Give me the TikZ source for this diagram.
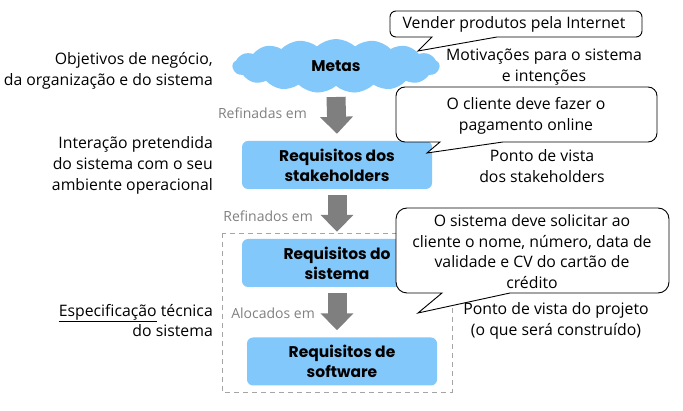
\documentclass[tikz,border=0pt]{standalone}
\usepackage{fontspec}
\setmainfont{Open Sans}
\newfontfamily\boxfont{Poppins}
\usetikzlibrary{shapes.symbols,arrows.meta}
\definecolor{boxblue}{RGB}{130,200,250}
\definecolor{arrowgray}{RGB}{127,127,127}
\definecolor{labelgray}{RGB}{128,128,128}
\definecolor{dashgray}{RGB}{165,165,165}
\begin{document}
\begin{tikzpicture}[x=1pt,y=-1pt,
  reqbox/.style={fill=boxblue, rounded corners=6pt, minimum width=190pt, minimum height=48pt, inner sep=0pt, align=center, font=\boxfont\bfseries\fontsize{15.5}{20}\selectfont},
  plain/.style={font=\fontsize{15.8}{20.8}\selectfont, inner sep=0pt},
  side/.style={plain, align=right, anchor=east},
  note/.style={plain, align=center},
  rel/.style={font=\fontsize{14}{16}\selectfont, text=labelgray, inner sep=0pt},
  blockarrow/.style={draw=arrowgray, line width=19pt, -{Triangle[width=32pt,length=17pt]}},
  bubble/.style={draw=black, fill=white, line width=0.9pt, line join=miter}
]
\useasboundingbox (0,0) rectangle (683,411);

% cloud
\node[cloud, cloud puffs=17, cloud puff arc=85, aspect=3.9, fill=boxblue, draw=none,
      minimum width=207pt, minimum height=54pt, inner sep=0pt,
      font=\boxfont\bfseries\fontsize{15.5}{20}\selectfont] (metas) at (336,66) {Metas};

% requirement boxes
\node[reqbox] (stake) at (337,165) {Requisitos dos\\stakeholders};
\node[reqbox] (sys) at (337,263) {Requisitos do\\sistema};
\node[reqbox] (sw) at (342,361.5) {Requisitos de\\software};

% dashed frame
\draw[dashgray, dashed, line width=0.9pt, dash pattern=on 5pt off 4pt] (222,233) rectangle (452,392);

% block arrows
\draw[blockarrow] ([yshift=-31pt]metas.center) -- ([yshift=7pt]stake.north);
\draw[blockarrow] ([yshift=-6pt]stake.south) -- ([yshift=7pt]sys.north);
\draw[blockarrow] ([yshift=-6pt]sys.south) -- ([yshift=7pt]sys.south |- sw.north);

% relation labels
\node[rel, anchor=east] (r1) at (307,113) {Refinadas em};
\node[rel, anchor=east] (r2) at (313,216) {Refinados em};
\node[rel, anchor=east] (r3) at (315,313) {Alocados em};

% side texts
\node[side] (s1) at (213,70.5) {Objetivos de negócio,\\da organização e do sistema};
\node[side] (s2) at (213,165.5) {Interação pretendida\\do sistema com o seu\\ambiente operacional};
\node[side] (s3) at (213,320.5) {\underline{Especificação} técnica\\do sistema};

% right texts
\node[note] (m1) at (544,67) {Motivações para o sistema\\e intenções};
\node[note] (p1) at (542,166) {Ponto de vista\\dos stakeholders};
\node[note] (p2) at (556,321) {Ponto de vista do projeto\\(o que será construído)};

% callouts
\draw[bubble] (497,37) -- (418,51) -- (432,37) [rounded corners=6pt] -- (390,37) -- (390,11) -- (642,11) -- (642,37) -- (497,37);
\node[note] (c1) at (514,24.5) {Vender produtos pela Internet};

\draw[bubble] (503,142) -- (427,153) -- (440,142) [rounded corners=9pt] -- (396,142) -- (396,87) -- (657,87) -- (657,142) -- (503,142);
\node[note] (c2) at (526,116) {O cliente deve fazer o\\pagamento online};

\draw[bubble] (510,293) -- (418,313) -- (442,293) [rounded corners=11pt] -- (396,293) -- (396,208) -- (669,208) -- (669,293) -- (510,293);
\node[note] (c3) at (532,251.5) {O sistema deve solicitar ao\\cliente o nome, número, data de\\validade e CV do cartão de\\crédito};
\end{tikzpicture}
\end{document}
